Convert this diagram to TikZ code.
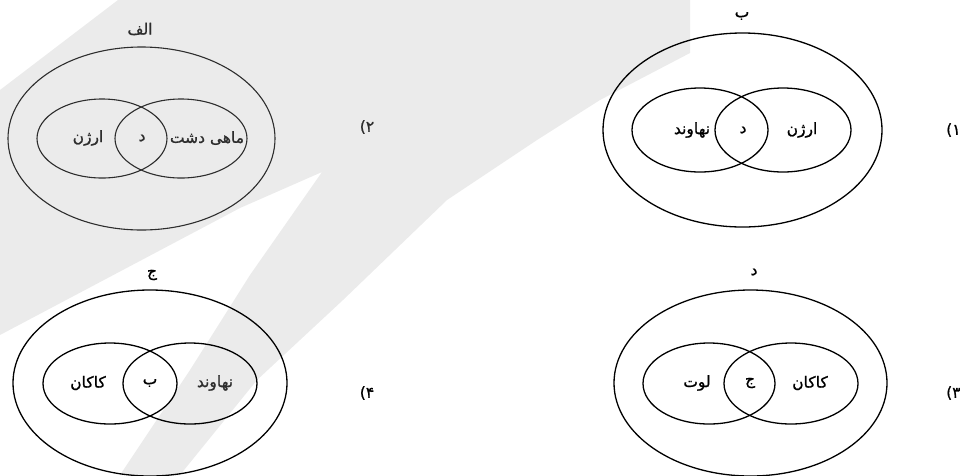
\documentclass[tikz,border=0pt]{standalone}
\usepackage{fontspec}
\newfontfamily\arabicfont[Script=Arabic,FakeBold=1]{DejaVu Sans}
\TeXXeTstate=1
\definecolor{wm}{RGB}{235,235,235}
\definecolor{dk}{RGB}{45,45,45}
\begin{document}
\begin{tikzpicture}[x=1pt,y=-1pt,
  fa/.style={font={\arabicfont\fontsize{15.5}{18}\selectfont},inner sep=0pt},
  ring/.style={draw=black,line width=1.3pt},
  ringdk/.style={draw=dk,line width=1.1pt}]
\useasboundingbox (0,0) rectangle (960,475);
\clip (0,0) rectangle (960,475);
% watermark
\fill[wm] (118,0) -- (690,0) -- (690,53) -- (600,100) -- (537,140) -- (447,200)
  -- (343,300) -- (257,380) -- (180,475) -- (120,475) -- (190,370) -- (250,275)
  -- (322,172) -- (240,208) -- (0,335) -- (0,90) -- cycle;
% top-left (alef)
\draw[ringdk] (141.5,138.5) ellipse [x radius=133.5, y radius=91.5];
\draw[ringdk] (102,138.5) ellipse [x radius=65, y radius=39.5];
\draw[ringdk] (181,138.5) ellipse [x radius=66, y radius=39.5];
\node[fa,text=dk] (tlT) at (140,29) {\beginR الف\endR};
\node[fa,text=dk] (tlL) at (88,138) {\beginR ارژن\endR};
\node[fa,text=dk] (tlM) at (142,138) {\beginR د\endR};
\node[fa,text=dk] (tlR) at (207,138) {\beginR ماهی دشت\endR};
\node[fa,text=dk] (tlN) at (367,127) {۲)};
% top-right (be)
\draw[ring] (742.5,130) ellipse [x radius=139.5, y radius=97];
\draw[ring] (700,130) ellipse [x radius=68, y radius=42];
\draw[ring] (783,130) ellipse [x radius=68, y radius=42];
\node[fa] (trT) at (742,16) {\beginR ب\endR};
\node[fa] (trL) at (692,130) {\beginR نهاوند\endR};
\node[fa] (trM) at (743,130) {\beginR د\endR};
\node[fa] (trR) at (802,130) {\beginR ارژن\endR};
\node[fa,anchor=west] (trN) at (946,130) {۱)};
% bottom-left (jim)
\draw[ring] (150,383) ellipse [x radius=137, y radius=93];
\draw[ring] (110,383.5) ellipse [x radius=67, y radius=40.5];
\draw[ring] (190,383.5) ellipse [x radius=67, y radius=40.5];
\node[fa] (blT) at (152,275) {\beginR ج\endR};
\node[fa] (blL) at (88,383) {\beginR کاکان\endR};
\node[fa] (blM) at (150,383) {\beginR ب\endR};
\node[fa,text=dk] (blR) at (215,383) {\beginR نهاوند\endR};
\node[fa] (blN) at (367,393) {۴)};
% bottom-right (dal)
\draw[ring] (750.5,383) ellipse [x radius=136.5, y radius=93];
\draw[ring] (709,383.5) ellipse [x radius=66, y radius=40.5];
\draw[ring] (791,383.5) ellipse [x radius=67, y radius=40.5];
\node[fa] (brT) at (754,272) {\beginR د\endR};
\node[fa] (brL) at (697,383) {\beginR لوت\endR};
\node[fa] (brM) at (750,383) {\beginR ج\endR};
\node[fa] (brR) at (810,383) {\beginR کاکان\endR};
\node[fa,anchor=west] (brN) at (946,393) {۳)};
\end{tikzpicture}
\end{document}
